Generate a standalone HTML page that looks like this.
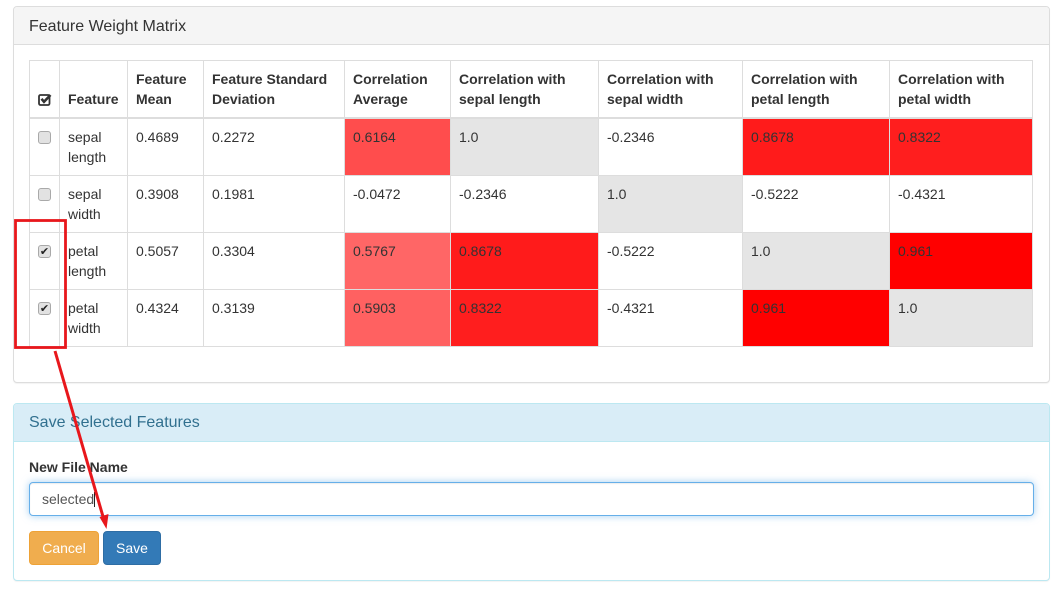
<!DOCTYPE html>
<html lang="en">
<head>
<meta charset="utf-8">
<title>Feature Weight Matrix</title>
<style>
html,body{margin:0;padding:0;width:1060px;height:595px;overflow:hidden;background:#fff;}
body{font-family:"Liberation Sans",sans-serif;font-size:14px;line-height:20px;color:#333;position:relative;}
*{box-sizing:border-box;}
.panel{position:absolute;left:13px;width:1037px;background:#fff;border:1px solid #ddd;border-radius:4px;box-shadow:0 1px 1px rgba(0,0,0,.05);}
.panel-heading{height:38px;padding:10px 15px;font-size:16px;line-height:18px;background:#f5f5f5;border-bottom:1px solid #ddd;border-radius:3px 3px 0 0;color:#333;}
.panel.first .panel-heading{padding-top:11px;}
.panel.info{border-color:#bce8f1;}
.panel.info .panel-heading{background:#d9edf7;border-bottom-color:#bce8f1;color:#31708f;}
#matrix{position:absolute;left:29px;top:60px;width:1003px;table-layout:fixed;border-collapse:collapse;background:#fff;}
#matrix th,#matrix td{border:1px solid #ddd;padding:8px;text-align:left;vertical-align:top;font-size:14px;line-height:20px;}
#matrix th{vertical-align:bottom;border-bottom:2px solid #ddd;font-weight:bold;}
.cb{appearance:none;-webkit-appearance:none;display:block;margin:4px 0 0 0;width:13px;height:13px;border:1px solid #a9a9a9;border-radius:3px;background:#e2e2e2;position:relative;}
.cb:checked::after{content:"\2714";position:absolute;left:0;top:0;width:11px;text-align:center;font-family:"DejaVu Sans",sans-serif;font-size:11px;line-height:11px;color:#222;}
#head-check{display:block;position:relative;top:-3px;}
#file-label{position:absolute;left:29px;top:457px;font-weight:bold;}
#file-input{position:absolute;left:29px;top:482px;width:1005px;height:34px;padding:6px 12px;font-family:"Liberation Sans",sans-serif;font-size:14px;color:#555;border:1px solid #66afe9;border-radius:4px;outline:0;box-shadow:inset 0 1px 1px rgba(0,0,0,.075),0 0 8px rgba(102,175,233,.6);background:#fff;}
#caret{position:absolute;left:94px;top:492px;width:1px;height:15px;background:#222;}
.btn{position:absolute;top:531px;height:34px;padding:6px 12px;font-family:"Liberation Sans",sans-serif;font-size:14px;line-height:20px;color:#fff;border-radius:4px;border:1px solid;text-align:center;}
#cancel{left:29px;width:70px;background:#f0ad4e;border-color:#eea236;}
#save{left:103px;width:58px;background:#337ab7;border-color:#2e6da4;}
#annotation{position:absolute;left:0;top:0;pointer-events:none;}
</style>
</head>
<body>

<div class="panel first" style="top:6px;height:377px;">
  <div class="panel-heading">Feature Weight Matrix</div>
</div>

<table id="matrix">
  <colgroup>
    <col style="width:30px"><col style="width:68px"><col style="width:76px"><col style="width:141px"><col style="width:106px"><col style="width:148px"><col style="width:144px"><col style="width:147px"><col style="width:143px">
  </colgroup>
  <thead>
    <tr id="head-row">
      <th>
        <svg id="head-check" width="14" height="13" viewBox="0 0 14 13">
          <rect x="1" y="2" width="10.5" height="10" rx="1.5" fill="none" stroke="#333" stroke-width="1.8"/>
          <polyline points="3.5,5.8 6,8.8 12.5,2" fill="none" stroke="#333" stroke-width="2.6"/>
        </svg>
      </th>
    </tr>
  </thead>
  <tbody id="matrix-body"></tbody>
</table>

<div class="panel info" style="top:403px;height:178px;">
  <div class="panel-heading">Save Selected Features</div>
</div>
<label id="file-label" for="file-input">New File Name</label>
<input id="file-input" type="text" value="selected">
<div id="caret"></div>
<button id="cancel" class="btn">Cancel</button>
<button id="save" class="btn">Save</button>

<svg id="annotation" width="1060" height="595" viewBox="0 0 1060 595">
  <rect x="15.5" y="220.5" width="50" height="127" fill="none" stroke="#e8171c" stroke-width="2.8"/>
  <line x1="55" y1="351" x2="104" y2="520" stroke="#e8171c" stroke-width="3"/>
  <polygon points="106.5,529 99.5,517 108.5,514" fill="#e8171c"/>
</svg>

<script>
var headers = ["Feature","Feature Mean","Feature Standard Deviation","Correlation Average","Correlation with sepal length","Correlation with sepal width","Correlation with petal length","Correlation with petal width"];
var features = ["sepal length","sepal width","petal length","petal width"];
var means = ["0.4689","0.3908","0.5057","0.4324"];
var deviations = ["0.2272","0.1981","0.3304","0.3139"];
var averages = ["0.6164","-0.0472","0.5767","0.5903"];
var corrSepalLength = ["1.0","-0.2346","0.8678","0.8322"];
var corrSepalWidth = ["-0.2346","1.0","-0.5222","-0.4321"];
var corrPetalLength = ["0.8678","-0.5222","1.0","0.961"];
var corrPetalWidth = ["0.8322","-0.4321","0.961","1.0"];
var selected = [false,false,true,true];

/* colour scale: correlation value -> green/blue channel of the red fill */
function shade(v){
  var s = [[0,255],[0.5767,102],[0.5903,97],[0.6164,77],[0.8322,30],[0.8678,27],[0.961,0]];
  if (v >= 1) return "#e5e5e5";
  if (v <= 0) return "#ffffff";
  if (v >= 0.961) return "rgb(255,0,0)";
  for (var i = 1; i < s.length; i++){
    if (v <= s[i][0]){
      var t = (v - s[i-1][0]) / (s[i][0] - s[i-1][0]);
      var g = Math.round(s[i-1][1] + t * (s[i][1] - s[i-1][1]));
      return "rgb(255," + g + "," + g + ")";
    }
  }
  return "#ffffff";
}

var headRow = document.getElementById("head-row");
headers.forEach(function(h){
  var th = document.createElement("th");
  
  
  th.textContent = h;
  headRow.appendChild(th);
});

var body = document.getElementById("matrix-body");
function addCell(tr, text, name, color){
  var td = document.createElement("td");
  
  
  td.textContent = text;
  if (color) td.style.background = color;
  tr.appendChild(td);
}
features.forEach(function(f, i){
  var tr = document.createElement("tr");
  
  
  var tdc = document.createElement("td");
  
  
  var cb = document.createElement("input");
  cb.type = "checkbox";
  cb.className = "cb";
  cb.checked = selected[i];
  
  
  tdc.appendChild(cb);
  tr.appendChild(tdc);
  addCell(tr, f, 'feature-name');
  addCell(tr, means[i], 'feature-mean');
  addCell(tr, deviations[i], 'feature-deviation');
  addCell(tr, averages[i], 'correlation-average', shade(parseFloat(averages[i])));
  [corrSepalLength, corrSepalWidth, corrPetalLength, corrPetalWidth].forEach(function(col){
    addCell(tr, col[i], 'correlation-cell', shade(parseFloat(col[i])));
  });
  body.appendChild(tr);
});
</script>
</body>
</html>
